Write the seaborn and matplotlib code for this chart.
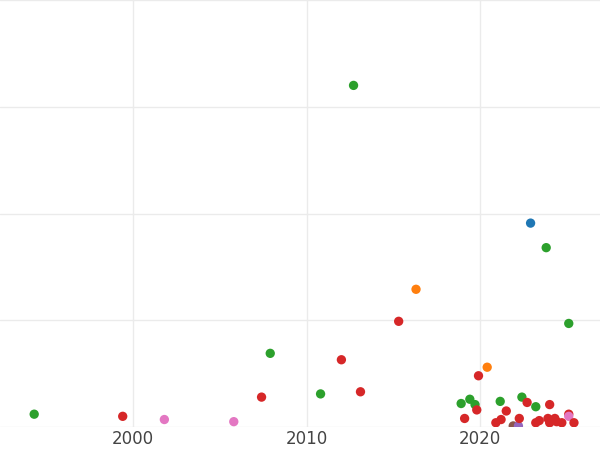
import matplotlib
matplotlib.use("Agg")
import matplotlib.pyplot as plt
import pandas as pd
import seaborn as sns

sns.set_theme(style="whitegrid")

# point data
years = [1994.3, 1999.4, 2001.8, 2005.8, 2007.4, 2007.9, 2010.8, 2012.0, 2012.7, 2013.1,
         2015.3, 2016.3, 2018.9, 2019.1, 2019.4, 2019.7, 2019.8, 2019.9, 2020.4, 2020.9,
         2021.15, 2021.2, 2021.5, 2021.9, 2022.2, 2022.25, 2022.4, 2022.7, 2022.9, 2023.2,
         2023.2, 2023.4, 2023.8, 2023.9, 2024.0, 2024.0, 2024.3, 2024.4, 2024.7, 2025.1,
         2025.1, 2025.1, 2025.4]
values = [0.12, 0.10, 0.07, 0.05, 0.28, 0.69, 0.31, 0.63, 3.20, 0.33,
          0.99, 1.29, 0.22, 0.08, 0.26, 0.21, 0.16, 0.48, 0.56, 0.04,
          0.24, 0.07, 0.15, 0.01, 0.01, 0.08, 0.28, 0.23, 1.91, 0.04,
          0.19, 0.06, 1.68, 0.08, 0.21, 0.04, 0.08, 0.05, 0.04, 0.97,
          0.12, 0.10, 0.04]
groups = ["green", "red", "pink", "pink", "red", "green", "green", "red", "green", "red",
          "red", "orange", "green", "red", "green", "green", "red", "red", "orange", "red",
          "green", "red", "red", "brown", "purple", "red", "green", "red", "blue", "red",
          "green", "red", "green", "red", "red", "red", "red", "red", "red", "green",
          "red", "pink", "red"]

palette = {"blue": "#1f77b4", "orange": "#ff7f0e", "green": "#2ca02c", "red": "#d62728",
           "purple": "#9467bd", "brown": "#8c564b", "pink": "#e377c2"}

df = pd.DataFrame({"year": years, "value": values, "group": groups})

fig = plt.figure(figsize=(6, 4.5), dpi=100)
ax = fig.add_axes([0, 23 / 450, 1, 1 - 23 / 450])
sns.scatterplot(data=df, x="year", y="value", hue="group", palette=palette,
                s=45, edgecolor="none", alpha=1, legend=False, ax=ax)

ax.set_xlim(1992.33, 2026.9)
ax.set_ylim(0, 4)
ax.set_yticks([0, 1, 2, 3, 4])
ax.set_yticklabels([])
ax.set_xticks([2000, 2010, 2020])
ax.tick_params(axis="x", labelsize=12, labelcolor="#444444", pad=2, length=0)
ax.tick_params(axis="y", length=0)
ax.grid(True, color="#ebebeb", linewidth=1)
for s in ax.spines.values():
    s.set_visible(False)
ax.set_xlabel("")
ax.set_ylabel("")

fig.savefig("out.png", dpi=100)
